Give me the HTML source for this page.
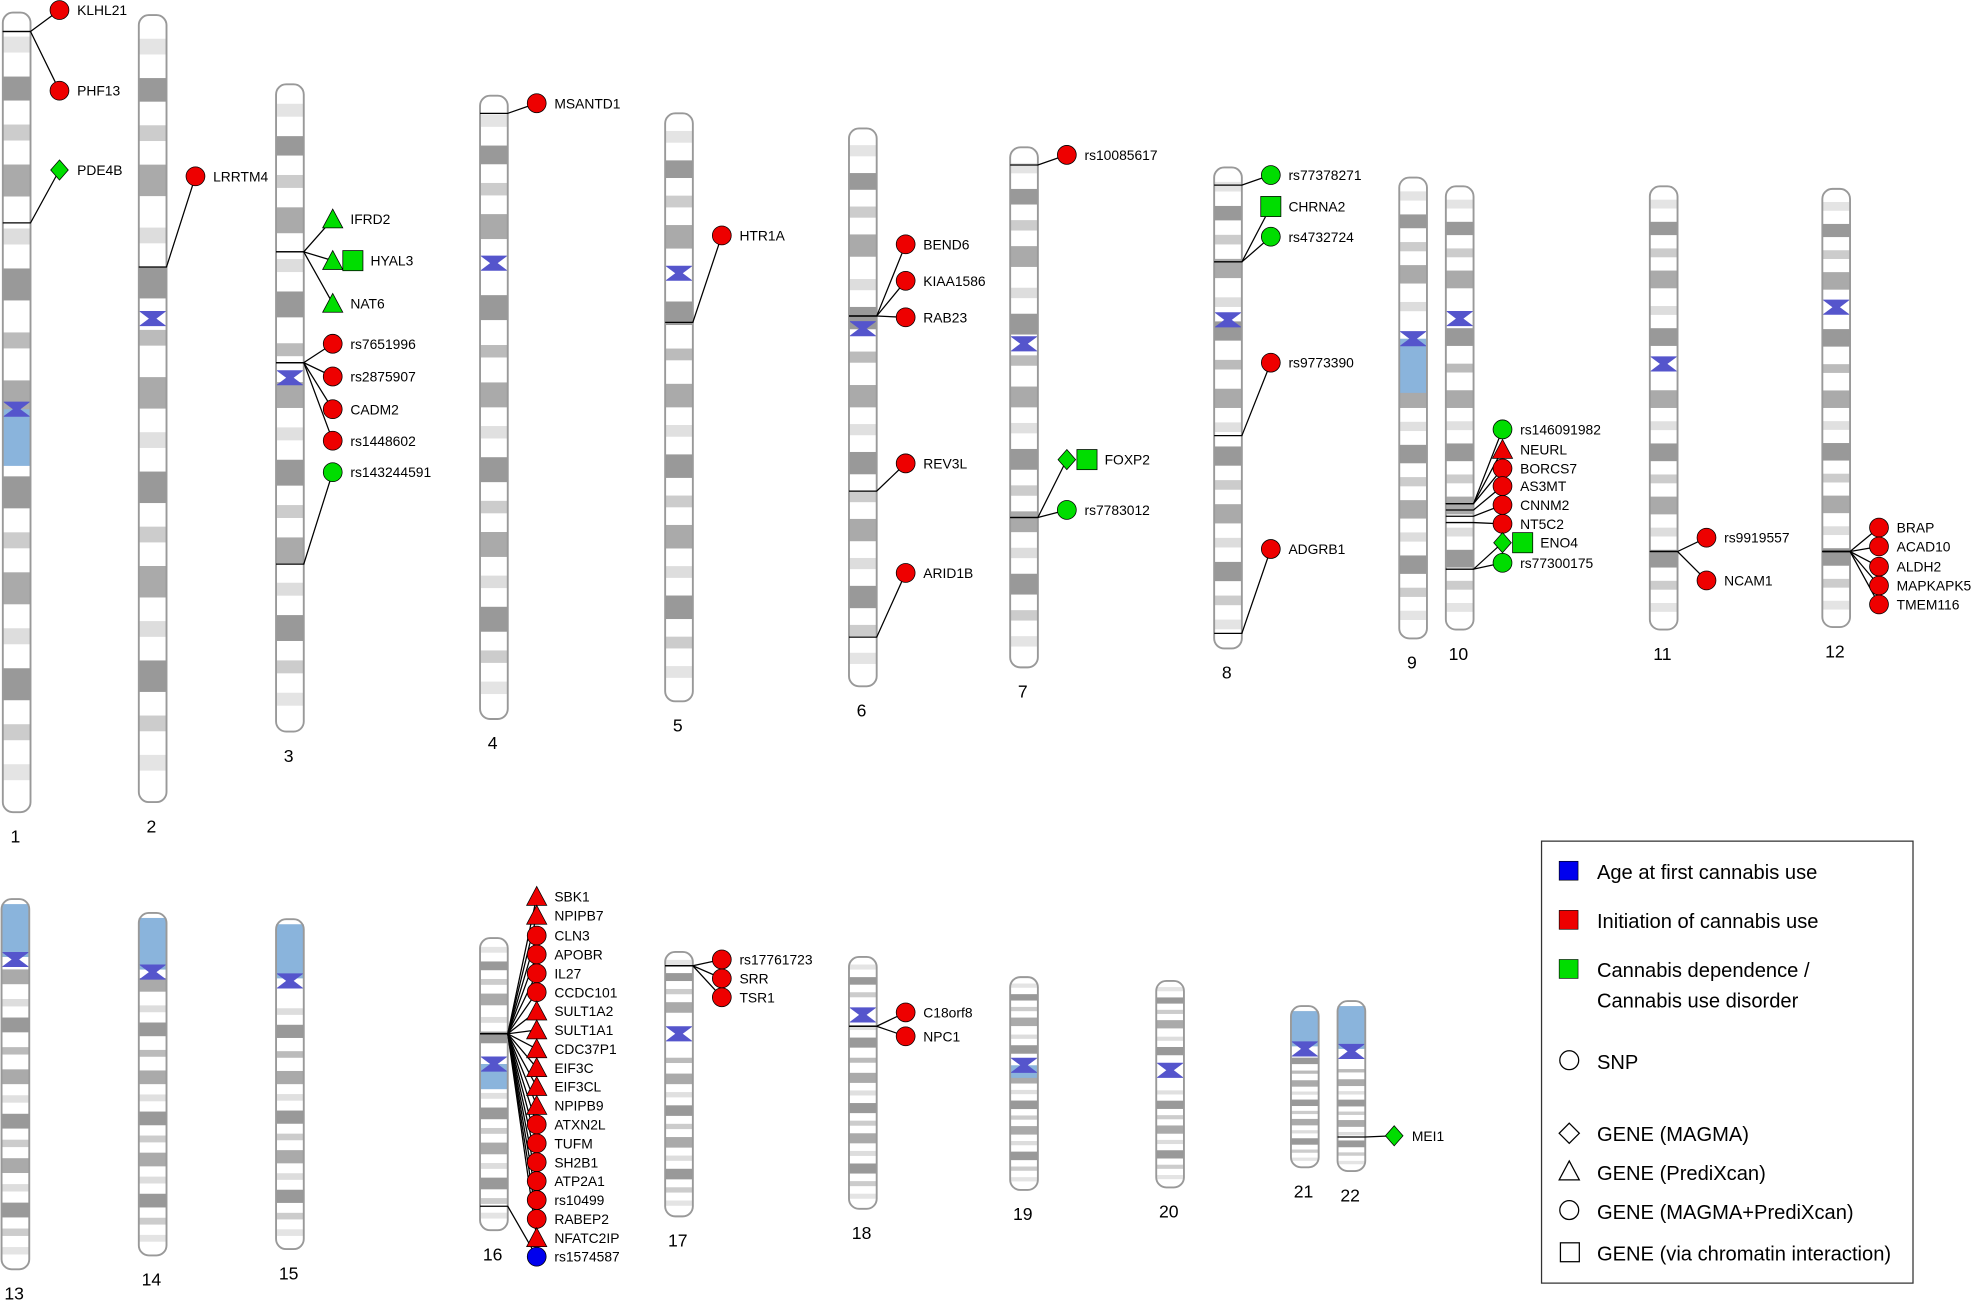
<!DOCTYPE html>
<html><head><meta charset="utf-8"><style>
html,body{margin:0;padding:0;background:#fff;}
svg{display:block;font-family:"Liberation Sans",sans-serif;}
</style></head><body>
<svg id="chart" width="1975" height="1302" viewBox="0 0 1568 1034" xmlns="http://www.w3.org/2000/svg">
<g id="chroms"></g><g id="links"></g><g id="marks"></g>
<g>
<rect x="1224" y="668" width="295" height="351" fill="#fff" stroke="#333" stroke-width="1"/>
<rect x="1238" y="684" width="15" height="15" fill="#0000ee" stroke="#000" stroke-width="0.5"/>
<text x="1268" y="698" font-size="16">Age at first cannabis use</text>
<rect x="1238" y="723" width="15" height="15" fill="#ee0000" stroke="#000" stroke-width="0.5"/>
<text x="1268" y="737" font-size="16">Initiation of cannabis use</text>
<rect x="1238" y="762" width="15" height="15" fill="#00dd00" stroke="#000" stroke-width="0.5"/>
<text x="1268" y="776" font-size="16">Cannabis dependence /</text>
<text x="1268" y="800" font-size="16">Cannabis use disorder</text>
<circle cx="1246" cy="842" r="7.5" fill="#fff" stroke="#000"/>
<text x="1268" y="849" font-size="16">SNP</text>
<path d="M1246,892 L1254,900 L1246,908 L1238,900Z" fill="#fff" stroke="#000"/>
<text x="1268" y="906" font-size="16">GENE (MAGMA)</text>
<path d="M1246,922 L1254,937 L1238,937Z" fill="#fff" stroke="#000"/>
<text x="1268" y="937" font-size="16">GENE (PrediXcan)</text>
<circle cx="1246" cy="961" r="7.5" fill="#fff" stroke="#000"/>
<text x="1268" y="968" font-size="16">GENE (MAGMA+PrediXcan)</text>
<rect x="1239" y="987" width="15" height="15" fill="#fff" stroke="#000"/>
<text x="1268" y="1001" font-size="16">GENE (via chromatin interaction)</text>
</g>
</svg>
<script>
const chromNames=["1","2","3","4","5","6","7","8","9","10","11","12","13","14","15","16","17","18","19","20","21","22"];
const chromX=[13,121,230,392,539,685,813,975,1122,1159,1321,1458,12,121,230,392,539,685,813,929,1036,1073];
const chromTop=[10,12,67,76,90,102,117,133,141,148,148,150,714,725,730,745,756,760,776,779,799,795];
const chromBottom=[645,637,581,571,557,545,530,515,507,500,500,498,1008,997,992,977,966,960,945,943,927,930];
const chromCen=[325,253,300,209,217,261,273,254,269,253,289,244,762,772,779,845,821,806,846,850,833,835];
const bandPattern=[[0.03,0.05,'#e4e4e4'],[0.08,0.11,'#999'],[0.14,0.16,'#ccc'],[0.19,0.23,'#aaa'],[0.27,0.29,'#ddd'],[0.32,0.36,'#999'],[0.40,0.42,'#bbb'],[0.46,0.50,'#aaa'],[0.53,0.55,'#e0e0e0'],[0.58,0.62,'#999'],[0.65,0.67,'#ccc'],[0.70,0.74,'#aaa'],[0.77,0.79,'#ddd'],[0.82,0.86,'#999'],[0.89,0.91,'#ccc'],[0.94,0.96,'#e4e4e4']];
const NS='http://www.w3.org/2000/svg';
function mk(t,a,p){const e=document.createElementNS(NS,t);for(const k in a)e.setAttribute(k,a[k]);p.appendChild(e);return e;}
const gC=document.getElementById('chroms');
chromNames.forEach((n,i)=>{
 const x=chromX[i],t=chromTop[i],b=chromBottom[i],c=chromCen[i],w=22,h=b-t;
 const g=mk('g',{},gC);
 
 
 mk('rect',{x:x-w/2,y:t,width:w,height:h,rx:8,fill:'#fff'},g);
 bandPattern.forEach(bp=>{const y1=t+bp[0]*h,y2=t+bp[1]*h;if(Math.abs((y1+y2)/2-c)<8)return;mk('rect',{x:x-w/2,y:y1,width:w,height:y2-y1,fill:bp[2]},g);});
 if(['1','9','16','19'].includes(n)) mk('rect',{x:x-w/2,y:c,width:w,height:(n==='1'?45:n==='9'?43:n==='16'?20:10),fill:'#8ab4dc'},g);
 if(['13','14','15','21','22'].includes(n)) mk('rect',{x:x-w/2,y:t+4,width:w,height:c-t-6,fill:'#8ab4dc'},g);
 mk('path',{d:`M${x-11},${c-6} L${x+11},${c-6} L${x+3},${c} L${x+11},${c+6} L${x-11},${c+6} L${x-3},${c}Z`,fill:'#5555cc'},g);
 mk('rect',{x:x-w/2,y:t,width:w,height:h,rx:8,fill:'none',stroke:'#999','stroke-width':1.5},g);
 const tx=mk('text',{x:x-1,y:b+24,'font-size':14,'text-anchor':'middle'},g);tx.textContent=n;
});
const markChrom=[0,0,0,1,2,2,2,2,2,2,2,2,3,4,5,5,5,5,5,6,6,6,7,7,7,7,7,9,9,9,9,9,9,9,9,10,10,11,11,11,11,11,
15,15,15,15,15,15,15,15,15,15,15,15,15,15,15,15,15,15,15,15,16,16,16,17,17,21];
const markAnchor=[25,25,177,212,200,200,200,288,288,288,288,448,90,256,251,251,251,390,506,131,411,411,147,208,208,346,503,400,400,400,405,410,415,452,452,438,438,438,438,438,438,438,
821,821,821,821,821,821,821,821,821,821,821,821,821,821,821,821,821,821,821,958,767,767,767,815,815,903];
const markY=[8,72,135,140,174,207,241,273,299,325,350,375,82,187,194,223,252,368,455,123,365,405,139,164,188,288,436,341,357,372,386,401,416,431,447,427,461,419,434,450,465,480,
712,727,743,758,773,788,803,818,833,848,863,878,893,908,923,938,953,968,983,998,762,777,792,804,823,902];
const markShape=['c','c','d','c','t','ts','t','c','c','c','c','c','c','c','c','c','c','c','c','c','ds','c','c','s','c','c','c','c','t','c','c','c','c','ds','c','c','c','c','c','c','c','c',
't','t','c','c','c','c','t','t','t','t','t','t','c','c','c','c','c','c','t','c','c','c','c','c','c','d'];
const markColor=['r','r','g','r','g','g','g','r','r','r','r','g','r','r','r','r','r','r','r','r','g','g','g','g','g','r','r','g','r','r','r','r','r','g','g','r','r','r','r','r','r','r',
'r','r','r','r','r','r','r','r','r','r','r','r','r','r','r','r','r','r','r','b','r','r','r','r','r','g'];
const markLabel=['KLHL21','PHF13','PDE4B','LRRTM4','IFRD2','HYAL3','NAT6','rs7651996','rs2875907','CADM2','rs1448602','rs143244591','MSANTD1','HTR1A','BEND6','KIAA1586','RAB23','REV3L','ARID1B','rs10085617','FOXP2','rs7783012','rs77378271','CHRNA2','rs4732724','rs9773390','ADGRB1','rs146091982','NEURL','BORCS7','AS3MT','CNNM2','NT5C2','ENO4','rs77300175','rs9919557','NCAM1','BRAP','ACAD10','ALDH2','MAPKAPK5','TMEM116',
'SBK1','NPIPB7','CLN3','APOBR','IL27','CCDC101','SULT1A2','SULT1A1','CDC37P1','EIF3C','EIF3CL','NPIPB9','ATXN2L','TUFM','SH2B1','ATP2A1','rs10499','RABEP2','NFATC2IP','rs1574587','rs17761723','SRR','TSR1','C18orf8','NPC1','MEI1'];
const COL={r:'#ee0000',g:'#00dd00',b:'#0000ee'};
const gL=document.getElementById('links'),gM=document.getElementById('marks');
function shape(s,x,y,fill,p){
 if(s==='c')return mk('circle',{cx:x,cy:y,r:7.5,fill,stroke:'#000','stroke-width':0.6},p);
 if(s==='d')return mk('path',{d:`M${x},${y-8} L${x+7},${y} L${x},${y+8} L${x-7},${y}Z`,fill,stroke:'#000','stroke-width':0.6},p);
 if(s==='t')return mk('path',{d:`M${x},${y-8} L${x+8},${y+7} L${x-8},${y+7}Z`,fill,stroke:'#000','stroke-width':0.6},p);
 if(s==='s')return mk('rect',{x:x-8,y:y-8,width:16,height:16,fill,stroke:'#000','stroke-width':0.6},p);
}
markLabel.forEach((lab,i)=>{
 const ci=markChrom[i],cx=chromX[ci],mx=cx+34,my=markY[i],ay=markAnchor[i];
 const ln=mk('path',{d:`M${cx-11},${ay} L${cx+11},${ay} L${mx},${my}`,fill:'none',stroke:'#000','stroke-width':1},gL);
 
 
 const g=mk('g',{},gM);
 
 
 const s=markShape[i],fill=COL[markColor[i]];
 let lx=mx+14;
 if(s==='ts'){shape('t',mx,my,fill,g);shape('s',mx+16,my,fill,g);lx=mx+30;}
 else if(s==='ds'){shape('d',mx,my,fill,g);shape('s',mx+16,my,fill,g);lx=mx+30;}
 else shape(s,mx,my,fill,g);
 const t=mk('text',{x:lx,y:my+4,'font-size':11},g);t.textContent=lab;
});
</script>
</body></html>
